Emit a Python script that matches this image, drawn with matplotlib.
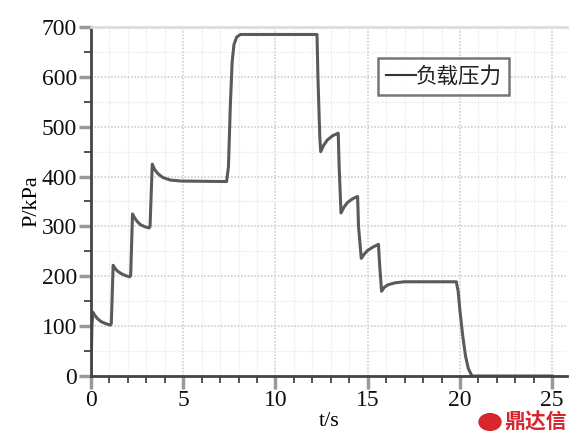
import matplotlib
matplotlib.use("Agg")
import matplotlib.pyplot as plt
from matplotlib.ticker import MultipleLocator
from matplotlib.patches import Circle

# Data (time in s, pressure in kPa)
t = [0.0, 0.05, 0.1, 0.2, 0.35, 0.55, 0.8, 1.05,
     1.1, 1.2, 1.3, 1.45, 1.65, 1.9, 2.1,
     2.15, 2.25, 2.35, 2.5, 2.7, 2.95, 3.15,
     3.2, 3.32, 3.45, 3.65, 3.9, 4.3, 4.9, 7.35,
     7.45, 7.55, 7.65, 7.75, 7.9, 8.1, 12.25,
     12.3, 12.4, 12.45, 12.6, 12.8, 13.1, 13.4,
     13.45, 13.55, 13.7, 13.9, 14.2, 14.45,
     14.5, 14.65, 14.8, 15.0, 15.3, 15.58,
     15.65, 15.75, 15.9, 16.1, 16.5, 17.0, 19.8,
     19.9, 20.0, 20.15, 20.3, 20.45, 20.65, 25.0]
P = [0, 100, 128, 122, 115, 109, 105, 102,
     105, 222, 216, 210, 205, 201, 199,
     202, 325, 318, 310, 303, 299, 297,
     300, 425, 414, 405, 398, 393, 391, 390,
     420, 540, 630, 665, 680, 685, 685,
     600, 480, 450, 462, 473, 482, 487,
     420, 327, 338, 348, 356, 360,
     300, 236, 244, 252, 259, 264,
     220, 170, 178, 183, 187, 189, 189,
     170, 130, 80, 40, 15, 0, 0]
series_label = "负载压力"
x_label = "t/s"
y_label = "P/kPa"

plt.rcParams['font.family'] = ['Liberation Serif', 'Noto Sans CJK SC', 'DejaVu Sans']

fig = plt.figure(figsize=(5.78, 4.40), dpi=100)
ax = fig.add_axes([91/578, 1-376/440, 476/578, 349/440])

ax.plot(t, P, color='#5a5a5a', lw=2.2, label=series_label, solid_joinstyle='round')

ax.set_xlim(0, 25.8)
ax.set_ylim(0, 700)
ax.xaxis.set_major_locator(MultipleLocator(5))
ax.xaxis.set_minor_locator(MultipleLocator(1))
ax.yaxis.set_major_locator(MultipleLocator(100))
ax.yaxis.set_minor_locator(MultipleLocator(50))

ax.grid(which='major', color='#cfcfcf', ls=(0, (1.0, 1.0)), lw=1.2)
ax.grid(which='minor', color='#e9e9e9', ls=(0, (1.0, 1.0)), lw=1.0)
ax.set_axisbelow(True)

for s in ['left', 'bottom']:
    ax.spines[s].set_color('#444444')
    ax.spines[s].set_linewidth(2.0)
ax.spines['top'].set_color('#dddddd')
ax.spines['top'].set_linewidth(2.0)
ax.spines['right'].set_visible(False)

ax.tick_params(which='major', direction='out', length=9, width=2.5, color='#999999',
               labelsize=17, labelcolor='#111111', pad=1)
ax.tick_params(which='minor', direction='out', length=5, width=1.3, color='#444444')
ax.tick_params(axis='x', which='major', pad=1)

ax.set_xlabel(x_label, fontsize=16, labelpad=1)
ax.set_ylabel(y_label, fontsize=16, labelpad=0)

leg = ax.legend(loc='upper left', bbox_to_anchor=(0.603, 0.91), frameon=True, fancybox=False,
                prop={'family': ['Noto Sans CJK SC'], 'size': 15.5}, handlelength=1.4,
                handletextpad=0.0, borderpad=0.35, borderaxespad=0)
leg.get_frame().set_edgecolor('#555555')
leg.get_frame().set_linewidth(1.8)
for txt in leg.get_texts():
    txt.set_color('#222222')
for h in leg.legend_handles:
    h.set_linewidth(1.5)
    h.set_color('#333333')

# watermark
fig.patches.append(Circle((490/578, 1-422/440), 11/578, transform=fig.transFigure,
                          color='#d8262c', zorder=5))
fig.text(504/578, 1-422/440, "鼎达信", family=['Noto Sans CJK SC'], fontsize=15,
         fontweight='bold', color='#d8262c', va='center', ha='left')

fig.savefig('out.png', dpi=100)
